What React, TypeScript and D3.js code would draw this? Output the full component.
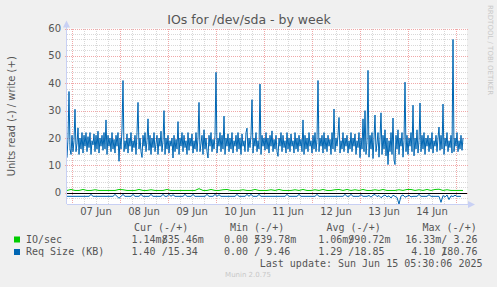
import React from "react";
import * as d3 from "d3";

const writeReqSize = [
  12.8,20,37,16,14,21,15,19,30.5,15,18,23.7,14,20,16,22,14.5,21,17,22,
  15,20.5,16.5,22,14,19,17.5,21.5,15,21,16,22.5,14.5,20,17,21,15.5,22,16,26.6,
  14,21,17,20,15,22,16,19.5,14.5,21,17,22,11.5,20,16,23,41,15,19,16,
  21.5,14.5,20,17,22,15,19,16.5,21,14,22,33,16,20,15,12.9,21,17,22,15,
  19,27,15.5,21,14,20,16.5,22,15,18,21,14,20,17,22.5,15,19,30,14,20,
  16,21,14.5,19,17,20,12.7,21,15,19.5,16,26,14,20,17,22,15,21,16.5,19,
  14,22,15.5,20,17,21.5,14.5,19,16,22,15,20,33,15,18,21,14,23,16,20,
  15,12.7,21,17,22,15,19.5,16,21,44,14.5,20,17,22,15,21,16,28,14,20,
  17,21.5,15,20,16,22,14.5,19,17,21,15,22,16,20,14,21.5,17,19,15,22,
  23.6,15,20,16.5,21,34,14.5,20,17,22,15,19,16,39.7,14,21,17,20,15.5,22,
  16,20,14.5,21,17,22.6,15,19.5,16,21,15,13.3,20,17,22,15,21,16.5,19,14.5,
  22,16,20,15,21.5,17,19,14.5,22,16,20,15,21,17,19.5,15,26.6,14,21,16,
  20,15,22,17,19,14.5,21,16,22,15,19.5,41,15,20,17,21,14.5,22,16,20,
  15,21,17,19.5,14,22,16,30.6,15,20,17,21,27.5,14.5,19,16,22,15,20,17,
  21,14.5,19,16,22,15,20,17,21.5,14,19,16.5,22,12.8,20,16,27,15,30,14,
  19,44.7,13,21,16,22,12.5,20,28.4,15,18,22,13,20,29.2,14,21,16,23,13.5,
  20,10.3,19,15,22,14,27.3,12,10.3,21,16,23,14,20,17,22,13,19,40.4,15,
  21,14,20,17,22,15,32,13.5,20,16,23,14.5,19,32.8,15,21,16,22,14,20,
  17,21,15,20,16,22,14.5,19,17,21,15,20,24,15.5,21,16,32.4,14,20,17,
  22,15,19,16.5,21,14.5,56,15,20,17,22,15,19,16,21,15.5,20,
];

const readReqSize = [
  1.3,1.3,1.3,1.3,1.3,1.3,1.3,1.3,1.3,1.3,1.3,1.3,0.6,1.3,1.3,1.3,1.3,1.3,1.3,1.3,
  1.3,1.3,1.3,1.3,0.6,1.3,2.0,1.3,0.6,1.3,1.3,1.3,1.3,0.6,1.3,1.3,1.3,0.6,1.3,1.3,
  1.3,1.3,0.6,1.3,1.3,1.3,1.3,1.3,0.6,1.3,1.3,0.6,1.3,0.7,1.3,1.3,1.3,1.3,1.3,0.6,
  1.3,1.3,1.3,0.6,1.3,1.3,1.3,1.3,1.3,1.3,0.6,1.3,1.3,1.3,0.6,1.3,0.7,1.3,1.3,1.3,
  1.3,1.3,1.3,1.3,1.3,0.6,1.3,1.3,1.3,1.3,0.6,1.3,0.6,1.3,1.3,1.3,0.6,1.3,1.3,1.3,
  1.3,1.3,1.3,1.3,1.3,1.3,1.3,1.3,1.3,1.3,0.6,1.3,1.3,1.3,1.3,1.3,0.6,1.3,1.3,1.3,
  1.3,1.3,1.3,1.3,1.3,0.6,1.3,1.3,1.3,1.3,1.3,1.3,1.3,1.3,1.3,1.3,1.3,1.3,1.3,0.6,
  1.3,1.3,0.6,1.3,1.3,1.3,1.3,0.7,1.3,1.3,1.3,1.0,1.6,0.9,0.6,1.4,1.0,1.8,1.2,0.8,
  1.5,1.1,1.9,0.9,1.3,1.7,4.1,1.2,0.8,1.6,1.3,0.9,1.5,1.3,1.3,1.3,0.6,1.3,1.3,1.3,
  1.3,0.7,1.3,1.3,1.3,1.3,1.3,3.5,1.0,1.6,0.8,2.5,1.1,1.4,0.9,1.3,1.3,1.3,
];

const writeIOs = [
  0.85,1.2,0.85,0.85,1.2,0.85,0.85,1.1,0.85,0.85,0.85,0.85,0.85,1.2,1.1,0.85,0.85,0.85,1.2,0.85,
  0.85,1.1,0.85,0.85,0.85,1.2,0.85,0.85,0.85,0.85,0.85,0.85,0.85,1.5,0.85,0.85,1.2,0.85,0.85,1.1,
  1.2,0.85,0.85,0.85,1.1,0.85,0.85,1.2,0.85,0.85,0.85,1.1,0.85,1.2,0.85,0.85,0.85,1.1,0.85,1.2,
  0.85,0.85,1.1,0.85,1.2,0.85,0.85,1.1,1.2,0.85,1.2,0.85,1.1,0.85,1.2,0.85,0.85,1.1,0.85,1.2,
  0.85,0.85,0.85,1.1,0.85,1.2,1.2,0.85,1.1,0.85,1.2,0.85,1.2,1.3,0.85,1.1,0.85,0.85,0.85,0.85,
];

const yTicks = [0, 10, 20, 30, 40, 50, 60];
const dayLabels = ["07 Jun", "08 Jun", "09 Jun", "10 Jun", "11 Jun", "12 Jun", "13 Jun", "14 Jun"];
const legendHeaders = ["Cur (-/+)", "Min (-/+)", "Avg (-/+)", "Max (-/+)"];
const seriesNames = ["IO/sec", "Req Size (KB)"];
const seriesColors = ["#00CC00", "#0066B3"];
// each cell: [read value, read unit, write value, write unit]
const ioValues = [["1.14", "m", "835.46", "m"], ["0.00", " ", "539.78", "m"], ["1.06", "m", "990.72", "m"], ["16.33", "m", "3.26", " "]];
const reqValues = [["1.40", " ", "15.34", " "], ["0.00", " ", "9.46", " "], ["1.29", " ", "18.85", " "], ["4.10", " ", "180.76", " "]];
const lastUpdate = "Last update: Sun Jun 15 05:30:06 2025";

const W = 497, H = 287;
const L = 67, R = 467, T = 28.5, B = 204;
const HOUR = 3600 * 1000;
const t0 = Date.UTC(2025, 5, 6, 21, 30);
const t1 = t0 + 200 * HOUR;

export default function App() {
  const x = d3.scaleTime().domain([t0, t1]).range([L, R]);
  const y = d3.scaleLinear().domain([-4.1, 60]).range([B, T]);

  const line = d3.line<[number, number]>().x((d) => x(d[0])).y((d) => y(d[1]));
  const wPts: [number, number][] = writeReqSize.map((v, i) => [t0 + i * 0.5 * HOUR, v]);
  const rPts: [number, number][] = readReqSize.map((v, i) => [t0 + i * HOUR, -v]);
  const gPts: [number, number][] = writeIOs.map((v, i) => [t0 + i * 2 * HOUR, v]);

  const minorH = d3.range(-4, 61, 2).filter((v) => v % 10 !== 0);
  const majorH = yTicks;
  const sixH: number[] = [];
  for (let t = Date.UTC(2025, 5, 7, 0); t < t1; t += 6 * HOUR) sixH.push(t);
  const midnights = sixH.filter((t) => new Date(t).getUTCHours() === 0);
  const minorV = sixH.filter((t) => new Date(t).getUTCHours() !== 0);

  const mono = "'DejaVu Sans Mono', monospace";
  const sans = "'DejaVu Sans', sans-serif";
  const txt = "#555";
  const cw = 6.02;
  const headerX = [134, 230, 326.5, 422.5];
  // start x of each 6-cell read field
  const fieldX = [119.5, 212, 306.2, 399.2];

  return (
    <svg width={W} height={H} style={{ position: "fixed", left: 0, top: 0 }}>
      <rect x={0} y={0} width={W} height={H} fill="#F0F0F0" />
      <rect x={L} y={T} width={R - L} height={B - T} fill="#FFFFFF" />
      <g shapeRendering="crispEdges">
        {minorH.map((v) => (
          <line key={"mh" + v} x1={L} x2={R + 2} y1={Math.round(y(v)) + 0.5} y2={Math.round(y(v)) + 0.5} stroke="#D8D8D8" strokeDasharray="1,1" />
        ))}
        {minorV.map((t) => (
          <line key={"mv" + t} x1={Math.round(x(t)) + 0.5} x2={Math.round(x(t)) + 0.5} y1={T} y2={B} stroke="#D8D8D8" strokeDasharray="1,1" />
        ))}
        {majorH.map((v) => (
          <line key={"Mh" + v} x1={L - 2} x2={R + 2} y1={Math.round(y(v)) + 0.5} y2={Math.round(y(v)) + 0.5} stroke="#F0A8A8" strokeDasharray="1,1" />
        ))}
        {midnights.map((t) => (
          <line key={"Mv" + t} x1={Math.round(x(t)) + 0.5} x2={Math.round(x(t)) + 0.5} y1={T} y2={B + 2} stroke="#F0A8A8" strokeDasharray="1,1" />
        ))}
      </g>
      <path d={line(gPts) || ""} fill="none" stroke="#00CC00" strokeWidth={1} />
      <path d={line(rPts) || ""} fill="none" stroke="#0066B3" strokeWidth={1} />
      <path d={line(wPts) || ""} fill="none" stroke="#0066B3" strokeWidth={1} />
      <line x1={L} x2={R} y1={Math.round(y(0)) + 0.5} y2={Math.round(y(0)) + 0.5} stroke="#000" strokeWidth={1} shapeRendering="crispEdges" />
      <g shapeRendering="crispEdges">
        <line x1={L - 0.5} x2={L - 0.5} y1={T - 4} y2={B} stroke="#C8D0F4" />
        <line x1={L} x2={R + 3} y1={B + 0.5} y2={B + 0.5} stroke="#C8D0F4" />
      </g>
      <path d={`M${L - 4},${T - 1} L${L - 0.5},${T - 8} L${L + 3},${T - 1} Z`} fill="#C8D0F4" />
      <path d={`M${R + 1},${B - 3} L${R + 8},${B + 0.5} L${R + 1},${B + 4} Z`} fill="#C8D0F4" />

      <text x={249} y={24} textAnchor="middle" fontFamily={sans} fontSize={12.5} fill={txt}>IOs for /dev/sda - by week</text>
      <text transform={`translate(15,${(T + B) / 2}) rotate(-90)`} textAnchor="middle" fontFamily={sans} fontSize={10} fill={txt}>Units read (-) / write (+)</text>
      <text transform="translate(488,5) rotate(90)" fontFamily={sans} fontSize={7} fill="#C8C8C8">RRDTOOL / TOBI OETIKER</text>

      {yTicks.map((v) => (
        <text key={"yt" + v} x={61} y={y(v) + 3.5} textAnchor="end" fontFamily={sans} fontSize={10} fill={txt}>{v}</text>
      ))}
      {dayLabels.map((s, i) => (
        <text key={s} x={x(Date.UTC(2025, 5, 7 + i, 12))} y={215} textAnchor="middle" fontFamily={sans} fontSize={10} fill={txt}>{s}</text>
      ))}

      {legendHeaders.map((h, i) => (
        <text key={h} x={headerX[i]} y={230.5} fontFamily={mono} fontSize={10} fill={txt}>{h}</text>
      ))}
      {seriesNames.map((n, r) => {
        const yy = 242.7 + r * 12.5;
        return (
          <g key={n}>
            <rect x={14} y={yy - 6.2} width={6} height={6} fill={seriesColors[r]} />
            <text x={26} y={yy} fontFamily={mono} fontSize={10} fill={txt}>{n}</text>
            {(r === 0 ? ioValues : reqValues).map((c, j) => {
              const readStr = c[0].padStart(6, " ") + c[1] + "/";
              const writeStr = c[2].padStart(6, " ") + c[3];
              return (
                <text key={j} x={fieldX[j]} y={yy} fontFamily={mono} fontSize={10} fill={txt} style={{ whiteSpace: "pre" }}>
                  {readStr}
                  <tspan dx={-cw}>{writeStr}</tspan>
                </text>
              );
            })}
          </g>
        );
      })}
      <text x={482.5} y={266.5} textAnchor="end" fontFamily={mono} fontSize={10} fill={txt}>{lastUpdate}</text>
      <text x={248} y={276.5} textAnchor="middle" fontFamily={sans} fontSize={7} fill="#C8C8C8">Munin 2.0.75</text>
    </svg>
  );
}
